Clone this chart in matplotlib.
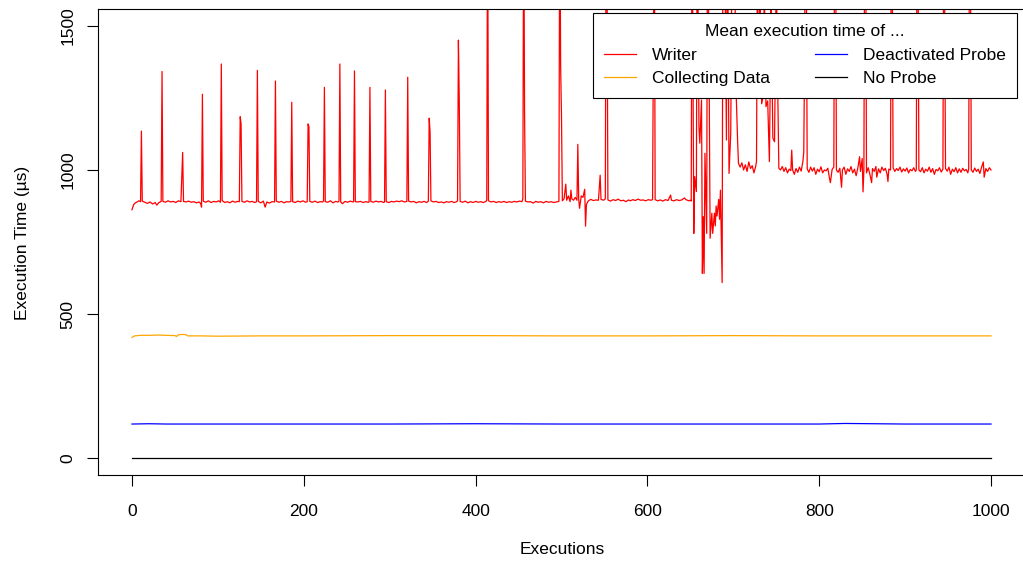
import numpy as np
import matplotlib
matplotlib.use('Agg')
import matplotlib.pyplot as plt

plt.rcParams['font.family'] = ['Liberation Sans', 'DejaVu Sans']

# Writer: (execution, mean time in us) vertices
writer_a = [(0, 862), (2, 880), (4, 886), (6, 889), (8, 893), (10, 890), (11, 1135), (12, 892), (15, 888),
            (18, 884), (21, 889), (24, 882), (27, 887), (29, 878), (31, 886), (34, 891), (35, 1342), (36, 891),
            (39, 888), (42, 893), (45, 889), (48, 891), (51, 887), (54, 893), (57, 890), (59, 1061), (60, 891),
            (63, 889), (66, 892), (69, 888), (72, 890), (75, 886), (78, 889), (80, 884), (81, 871), (82, 1263),
            (83, 892), (86, 888), (89, 893), (92, 887), (95, 891), (98, 889), (101, 893), (103, 888), (104, 1368),
            (105, 894), (108, 887), (111, 890), (114, 886), (117, 892), (120, 888), (123, 891), (125, 890),
            (126, 1185), (127, 1160), (128, 891), (131, 888), (134, 893), (137, 889), (140, 891), (143, 887),
            (145, 890), (146, 1346), (147, 891), (150, 886), (153, 892), (155, 871), (157, 889), (160, 885),
            (163, 890), (166, 889), (167, 1309), (168, 892), (171, 888), (174, 891), (177, 886), (180, 890),
            (183, 889), (185, 891), (186, 1235), (187, 890), (190, 887), (193, 892), (196, 889), (199, 893),
            (202, 888), (204, 890), (205, 1160), (206, 1150), (207, 891), (210, 888), (213, 892), (216, 887),
            (219, 890), (222, 889), (223, 892), (224, 1287), (225, 890), (228, 888), (231, 893), (234, 886),
            (237, 891), (240, 889), (241, 892), (242, 1368), (243, 889), (245, 883), (248, 891)]
writer_b = [(251, 888), (254, 892), (257, 889), (258, 890), (259, 1344), (260, 890), (263, 889), (266, 891),
            (269, 887), (272, 890), (275, 888), (276, 889), (277, 1287), (278, 891), (281, 888), (284, 892),
            (287, 889), (290, 891), (293, 887), (294, 889), (295, 1278), (296, 890), (299, 887), (302, 891),
            (305, 889), (308, 892), (311, 890), (314, 893), (317, 889), (320, 891), (321, 1322), (322, 892),
            (325, 889), (328, 891), (331, 886), (334, 890), (337, 888), (340, 891), (343, 887), (345, 892),
            (346, 1180), (347, 1133), (348, 893), (351, 889), (354, 891), (357, 887), (360, 889), (363, 886),
            (366, 890), (369, 888), (372, 891), (375, 887), (378, 890), (379, 893), (380, 1451), (381, 1243),
            (382, 891), (385, 888), (388, 892), (391, 886), (394, 890), (397, 887), (400, 891), (403, 888),
            (406, 890), (409, 887), (412, 891), (413, 895), (414, 2000), (415, 893), (418, 889), (421, 891),
            (424, 887), (427, 890), (430, 888), (433, 891), (436, 887), (439, 890), (442, 888), (445, 891),
            (448, 889), (451, 892), (454, 890), (455, 900), (456, 2000), (457, 1197), (458, 892), (461, 889),
            (464, 890), (467, 885), (470, 891), (473, 888), (476, 890), (479, 886), (482, 891), (485, 888),
            (488, 890), (491, 887), (494, 889), (497, 891), (498, 2000), (499, 1360), (500, 1185)]
writer_c = [(501, 893), (503, 900), (505, 951), (506, 895), (508, 910), (510, 890), (511, 930), (512, 900),
            (514, 895), (516, 905), (518, 895), (519, 1089), (520, 900), (521, 867), (523, 910), (525, 905),
            (527, 933), (528, 805), (529, 880), (531, 892), (534, 898), (537, 894), (540, 896), (543, 895),
            (545, 982), (546, 898), (549, 895), (551, 900), (552, 2000), (553, 1700), (554, 896), (557, 892),
            (560, 897), (563, 894), (566, 899), (569, 893), (572, 895), (575, 890), (578, 896), (580, 893),
            (583, 897), (586, 894), (589, 899), (592, 895), (595, 896), (598, 893), (601, 897), (604, 895),
            (606, 897), (607, 1450), (608, 2000), (609, 897), (612, 893), (615, 896), (618, 892), (621, 897),
            (624, 894), (627, 913), (628, 895), (631, 893), (634, 897), (637, 894), (640, 896), (643, 903),
            (645, 897), (648, 893), (650, 895), (651, 892), (652, 2000), (654, 780), (655, 977), (657, 925),
            (658, 2000), (660, 1150), (661, 1093), (663, 1243), (664, 641), (665, 838), (666, 641), (667, 1058),
            (669, 780), (670, 2000), (672, 1254), (673, 763), (675, 850), (676, 780), (678, 850), (679, 806),
            (680, 875), (681, 840), (683, 898), (684, 829), (685, 930), (687, 609), (688, 2000), (690, 1800),
            (692, 1104), (693, 2000), (695, 988), (697, 1128), (699, 2000), (701, 1900), (703, 1300),
            (705, 1100), (706, 1023), (708, 1010), (710, 1025), (712, 1000), (714, 1018), (716, 995),
            (718, 1028), (720, 1005), (722, 1015), (724, 990), (726, 1012), (727, 1030), (728, 1700),
            (730, 1250), (731, 1600), (733, 1230), (735, 1260), (736, 1650), (738, 1220), (740, 1240),
            (742, 1029), (744, 1600), (746, 1111), (748, 1098), (750, 1700), (752, 1215)]
writer_d = [(753, 1006), (755, 1000), (757, 1012), (759, 995), (761, 1008), (763, 990), (765, 1003), (767, 998),
            (768, 1069), (769, 1000), (771, 985), (773, 1005), (775, 992), (777, 1010), (779, 996), (781, 1030),
            (782, 1062), (783, 1400), (784, 2000), (785, 1700), (786, 1004), (788, 992), (790, 1010), (792, 996),
            (794, 1008), (796, 985), (798, 1003), (800, 994), (802, 1011), (804, 990), (806, 1000), (808, 997),
            (810, 1006), (812, 970), (813, 956), (815, 1002), (817, 1010), (818, 2000), (819, 2000), (820, 1000),
            (822, 992), (824, 1006), (826, 940), (827, 1000), (829, 1010), (831, 985), (833, 1004), (835, 995),
            (837, 1012), (839, 990), (841, 1003), (843, 980), (845, 1008), (847, 1046), (848, 995), (850, 1040),
            (851, 924), (852, 1000), (853, 2000), (854, 2000), (855, 990), (857, 1008), (859, 985), (861, 956),
            (862, 1005), (864, 995), (866, 1012), (867, 975), (869, 1004), (871, 990), (873, 1010), (875, 998),
            (877, 1006), (879, 985), (880, 960), (881, 1003), (883, 1000), (884, 2000), (885, 1700), (886, 1008),
            (888, 995), (890, 1005), (892, 998), (894, 1010), (896, 993), (898, 1004), (900, 996), (902, 1007),
            (904, 990), (906, 1002), (908, 997), (910, 1008), (912, 995), (913, 1001), (914, 2000), (915, 1800),
            (916, 1000), (918, 994), (920, 1008), (922, 990), (924, 1003), (926, 996), (928, 1010), (930, 992),
            (932, 1005), (934, 985), (936, 1002), (938, 997), (940, 1008), (942, 993), (944, 1003), (945, 2000),
            (946, 1600), (947, 1005), (949, 996), (951, 1010), (953, 985), (955, 1003), (957, 994), (959, 1008),
            (961, 990), (963, 1004), (965, 992), (967, 1006), (969, 997), (971, 1002), (973, 990), (974, 1005),
            (975, 2000), (976, 1800), (977, 1000), (979, 992), (981, 1007), (983, 995), (985, 1003), (987, 988),
            (989, 1010), (991, 1028), (992, 975), (994, 1005), (996, 995), (998, 1008), (1000, 1000)]

collecting = [(0, 419), (3, 424), (10, 426), (20, 426), (30, 427), (40, 426), (50, 425), (52, 422), (54, 428),
              (60, 429), (63, 428), (65, 424), (80, 424), (100, 423), (150, 424), (200, 424), (300, 425),
              (400, 425), (500, 424), (600, 424), (700, 425), (800, 424), (900, 424), (1000, 424)]
deactivated = [(0, 118), (20, 119), (40, 118), (100, 118), (200, 118), (300, 118), (400, 119), (500, 118),
               (600, 118), (700, 118), (800, 118), (830, 120), (900, 118), (1000, 118)]
no_probe = [(0, 1), (250, 1), (500, 1), (750, 1), (1000, 1)]

series_names = ['Writer', 'Collecting Data', 'Deactivated Probe', 'No Probe']
series_colors = ['#FF0000', '#FFA500', '#0000FF', '#000000']

W, H = 1023, 563
fig = plt.figure(figsize=(W / 100, H / 100), dpi=100)
ax = fig.add_axes([97.6 / W, (H - 475.3) / H, 927.8 / W, 466.6 / H])

writer = writer_a + writer_b + writer_c + writer_d
data = [writer, collecting, deactivated, no_probe]
for pts, name, col in zip(data, series_names, series_colors):
    xs, ys = zip(*pts)
    ax.plot(xs, ys, color=col, lw=0.9, label=name)

ax.set_xlim(-40, 1040)
ax.set_ylim(-60, 1560)
ax.set_xticks([0, 200, 400, 600, 800, 1000])
ax.set_yticks([0, 500, 1000, 1500])
ax.tick_params(direction='out', length=7.7, width=0.8, labelsize=12.5)
ax.tick_params(axis='x', pad=13)
ax.tick_params(axis='y', pad=8)
for lab in ax.get_yticklabels():
    lab.set_rotation(90)
    lab.set_va('center')
for s in ['left', 'bottom', 'top']:
    ax.spines[s].set_color('black')
    ax.spines[s].set_linewidth(0.8)
ax.spines['right'].set_visible(False)

fig.text(562 / W, 1 - 550 / H, 'Executions', ha='center', va='center', fontsize=12.5)
fig.text(23 / W, 1 - 243 / H, 'Execution Time (µs)', ha='center', va='center', rotation=90, fontsize=12.5)

leg = ax.legend(ncol=2, title='Mean execution time of ...', loc='upper right',
                bbox_to_anchor=(1017 / W, 1 - 13 / H), bbox_transform=fig.transFigure,
                fontsize=12.5, title_fontsize=12.5, frameon=True, fancybox=False,
                edgecolor='black', framealpha=1, borderaxespad=0, handlelength=1.84,
                handletextpad=0.92, columnspacing=2.6, labelspacing=0.48, borderpad=0.65)
leg.get_frame().set_linewidth(0.8)

fig.savefig('out.png', dpi=100)
